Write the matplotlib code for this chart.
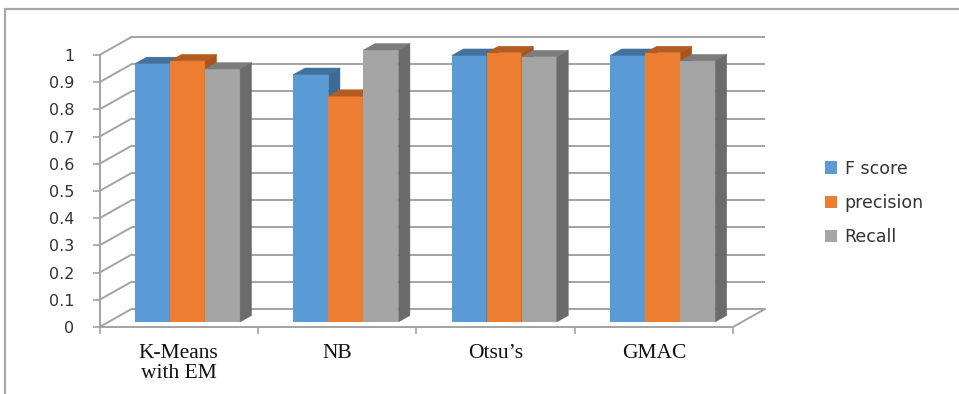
import numpy as np
import matplotlib
matplotlib.use("Agg")
import matplotlib.pyplot as plt
from matplotlib.patches import Polygon, Rectangle, Patch

# ---------------- data ----------------
categories = ["K-Means\nwith EM", "NB", "Otsu\u2019s", "GMAC"]
series_names = ["F score", "precision", "Recall"]
f_score = [0.95, 0.91, 0.98, 0.98]
precision = [0.96, 0.83, 0.99, 0.99]
recall = [0.93, 1.00, 0.975, 0.96]
y_ticks = [0, 0.1, 0.2, 0.3, 0.4, 0.5, 0.6, 0.7, 0.8, 0.9, 1.0]
y_tick_labels = ["0", "0.1", "0.2", "0.3", "0.4", "0.5", "0.6", "0.7", "0.8", "0.9", "1"]

series_values = [f_score, precision, recall]
front_colors = ["#5B9BD5", "#ED7D31", "#A5A5A5"]
top_colors = ["#41719C", "#B45B1F", "#7C7C7C"]
side_colors = ["#3C6A94", "#A9541C", "#6B6B6B"]

# ---------------- figure ----------------
W, H = 959, 394
fig = plt.figure(figsize=(W / 100, H / 100), dpi=100)
fig.patch.set_facecolor("white")

# outer frame (pixel coords)
fig.patches.append(Rectangle((5 / W, -0.05), (W + 20) / W, (H - 9) / H + 0.05,
                             transform=fig.transFigure, fill=False,
                             edgecolor="#A8A8A8", lw=1.6))

x_left_px, x_right_px = 99.5, 733.0
y0_px, y1_px = 327.0, 55.0
ax = fig.add_axes([x_left_px / W, (H - y0_px) / H,
                   (x_right_px - x_left_px) / W, (y0_px - y1_px) / H])
ax.set_xlim(0, len(categories))
ax.set_ylim(0, 1)
ax.patch.set_alpha(0)

cat_px = (x_right_px - x_left_px) / len(categories)
val_px = (y0_px - y1_px)
DX = 32.0 / cat_px      # depth offset in category units
DY = 18.0 / val_px      # depth offset in value units

grid_c = "#A3A3A3"
glw = 1.4
# back wall and left wall gridlines
for v in y_ticks:
    ax.plot([DX, len(categories) + DX], [v + DY, v + DY], color=grid_c, lw=glw,
            clip_on=False, zorder=1, solid_capstyle="butt")
    ax.plot([0, DX], [v, v + DY], color=grid_c, lw=glw, clip_on=False, zorder=1)
# floor right edge
ax.plot([len(categories), len(categories) + DX], [0, DY], color=grid_c, lw=glw,
        clip_on=False, zorder=1)

# spines
for s in ["top", "right"]:
    ax.spines[s].set_visible(False)
for s in ["left", "bottom"]:
    ax.spines[s].set_color(grid_c)
    ax.spines[s].set_linewidth(glw)

# ticks
ax.set_yticks(y_ticks, y_tick_labels)
ax.tick_params(axis="y", which="major", length=5, width=1.2, color=grid_c,
               labelsize=11.5, labelcolor="#333333", pad=13)
ax.set_xticks(np.arange(len(categories) + 1))
ax.set_xticklabels([])
ax.tick_params(axis="x", which="major", length=5, width=1.2, color=grid_c)
ax.set_xticks(np.arange(len(categories)) + 0.5, minor=True)
ax.set_xticklabels(categories, minor=True, fontfamily="Liberation Serif",
                   fontsize=15.5, color="#111111", linespacing=1.08)
ax.tick_params(axis="x", which="minor", length=0, pad=12)
for lab in ax.get_yticklabels():
    lab.set_fontfamily("DejaVu Sans")

# bars
w = 35.0 / cat_px
f0 = 5.0 / 18.0
t = 0.36
for j, vals in enumerate(series_values):
    xs = np.arange(len(categories)) + 0.5 + (j - 1) * w + f0 * DX
    bars = ax.bar(xs, vals, width=w, bottom=f0 * DY, color=front_colors[j],
                  linewidth=0, label=series_names[j])
    for i, (b, v) in enumerate(zip(bars, vals)):
        z = 3 + (i * 3 + j) * 0.1
        b.set_zorder(z)
        b.set_clip_on(False)
        xl = b.get_x()
        xr = xl + b.get_width()
        yb = b.get_y()
        yt = yb + b.get_height()
        top = Polygon([(xl, yt), (xr, yt), (xr + t * DX, yt + t * DY),
                       (xl + t * DX, yt + t * DY)], closed=True,
                      facecolor=top_colors[j], edgecolor=top_colors[j], lw=0.3,
                      zorder=z, clip_on=False)
        side = Polygon([(xr, yb), (xr, yt), (xr + t * DX, yt + t * DY),
                        (xr + t * DX, yb + t * DY)], closed=True,
                       facecolor=side_colors[j], edgecolor=side_colors[j], lw=0.3,
                       zorder=z, clip_on=False)
        ax.add_patch(top)
        ax.add_patch(side)

# legend
handles = [Patch(facecolor=c, edgecolor="none") for c in front_colors]
leg = fig.legend(handles, series_names, loc="center left",
                 bbox_to_anchor=(809 / W, 1 - 203 / H), frameon=False,
                 fontsize=12.5, handlelength=0.7, handleheight=0.7,
                 handletextpad=0.45, labelspacing=0.95)
for txt in leg.get_texts():
    txt.set_color("#333333")
    txt.set_fontfamily("DejaVu Sans")

fig.savefig("out.png", dpi=100)
